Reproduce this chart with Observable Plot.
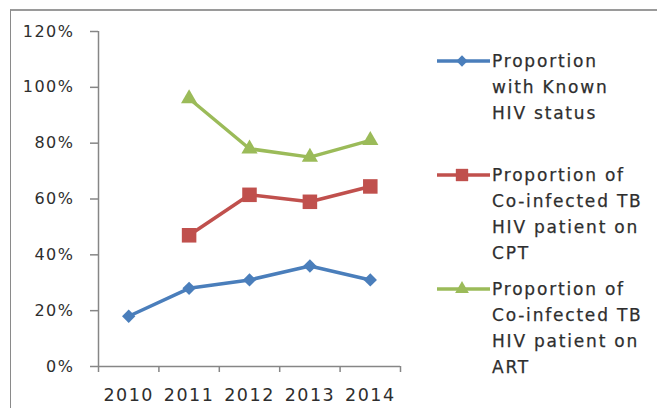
<!DOCTYPE html>
<html>
<head>
<meta charset="utf-8">
<script src="https://cdn.jsdelivr.net/npm/d3@7"></script>
<script src="https://cdn.jsdelivr.net/npm/@observablehq/plot@0.6"></script>
<style>
  html, body { margin: 0; padding: 0; background: #fff; }
  #wrap { position: relative; width: 657px; height: 408px; overflow: hidden; font-family: "DejaVu Sans", sans-serif; }
  #frame { position: absolute; left: 10px; top: 9px; width: 700px; height: 500px; border-left: 1px solid #8a8a8a; border-top: 2px solid #9a9a9a; box-sizing: border-box; }
  #chart { position: absolute; left: 0; top: 0; }
  #chart text { -webkit-text-stroke: 0.25px #2e2e2e; }
  #legend { position: absolute; left: 0; top: 0; }
  .entry { position: absolute; left: 437px; }
  .entry svg { position: absolute; left: 0; top: 0; }
  .entry .txt { position: absolute; left: 55px; top: 0; font-size: 17px; letter-spacing: 1.8px; line-height: 26px; color: #2e2e2e; white-space: nowrap; -webkit-text-stroke: 0.25px #2e2e2e; }
</style>
</head>
<body>
<div id="wrap">
  <div id="frame"></div>
  <div id="chart"></div>
  <div id="legend"></div>
</div>
<script>
const years = [2010, 2011, 2012, 2013, 2014];
const knownHIV = [18, 28, 31, 36, 31];
const onCPT = [null, 47, 61.5, 59, 64.5];
const onART = [null, 96, 78, 75, 81];
const seriesNames = [
  "Proportion with Known HIV status",
  "Proportion of Co-infected TB HIV patient on CPT",
  "Proportion of Co-infected TB HIV patient on ART"
];
const legendLines = [
  ["Proportion", "with Known", "HIV status"],
  ["Proportion of", "Co-infected TB", "HIV patient on", "CPT"],
  ["Proportion of", "Co-infected TB", "HIV patient on", "ART"]
];
const seriesColors = ["#4a7ebb", "#c0504d", "#9bbb59"];
const seriesSymbols = ["diamond2", "square", "triangle"];
const symbolRadius = [6, 8.2, 6];
const yTicks = [0, 20, 40, 60, 80, 100, 120];
const yearBounds = [2009.5, 2010.5, 2011.5, 2012.5, 2013.5, 2014.5];

const seriesValues = [knownHIV, onCPT, onART];
const rows = [];
seriesValues.forEach((vals, i) => {
  vals.forEach((v, j) => {
    if (v != null) rows.push({ series: seriesNames[i], year: years[j], value: v, symbol: seriesSymbols[i], r: symbolRadius[i] });
  });
});

const axisColor = "#868686";
const textColor = "#2e2e2e";

const chart = Plot.plot({
  width: 657,
  height: 408,
  marginLeft: 98,
  marginRight: 257,
  marginTop: 31,
  marginBottom: 42,
  style: { fontFamily: "DejaVu Sans, sans-serif", fontSize: "16px", letterSpacing: "1.5px", background: "transparent", overflow: "visible" },
  x: { type: "linear", domain: [yearBounds[0], yearBounds[yearBounds.length - 1]] },
  y: { domain: [0, 120] },
  r: { type: "identity" },
  color: { domain: seriesNames, range: seriesColors },
  symbol: { domain: seriesSymbols, range: seriesSymbols },
  marks: [
    Plot.axisY({ ticks: yTicks, tickSize: 8, tickPadding: 16, tickFormat: d => d + "%", stroke: axisColor, fill: textColor, strokeWidth: 1.5, label: null, fontSize: 16 }),
    Plot.axisX({ ticks: yearBounds, tickSize: 6, tickFormat: () => "", stroke: axisColor, strokeWidth: 1.5, label: null }),
    Plot.axisX({ ticks: years, tickSize: 0, tickPadding: 22, tickFormat: d => String(d), fill: textColor, label: null, fontSize: 17.5 }),
    Plot.ruleX([yearBounds[0]], { stroke: axisColor, strokeWidth: 1.5 }),
    Plot.ruleY([0], { stroke: axisColor, strokeWidth: 1.5 }),
    Plot.line(rows, { x: "year", y: "value", z: "series", stroke: "series", strokeWidth: 3.5 }),
    Plot.dot(rows, { x: "year", y: "value", symbol: "symbol", fill: "series", r: "r" })
  ]
});
document.getElementById("chart").appendChild(chart);

// legend
const legend = d3.select("#legend");
const firstLineY = [61, 175, 289];
const symFns = { diamond2: d3.symbolDiamond2, square: d3.symbolSquare, triangle: d3.symbolTriangle };
legendLines.forEach((lines, i) => {
  const top = firstLineY[i] - 13;
  const e = legend.append("div").attr("class", "entry").style("top", top + "px");
  const svg = e.append("svg").attr("width", 56).attr("height", 26);
  svg.append("line").attr("x1", 0).attr("x2", 53).attr("y1", 13).attr("y2", 13)
    .attr("stroke", seriesColors[i]).attr("stroke-width", 3.5);
  const rr = symbolRadius[i] * 0.85;
  svg.append("path").attr("transform", "translate(25,13)")
    .attr("d", d3.symbol(symFns[seriesSymbols[i]], Math.PI * rr * rr)())
    .attr("fill", seriesColors[i]);
  const t = e.append("div").attr("class", "txt");
  lines.forEach(l => t.append("div").text(l));
});
</script>
</body>
</html>
